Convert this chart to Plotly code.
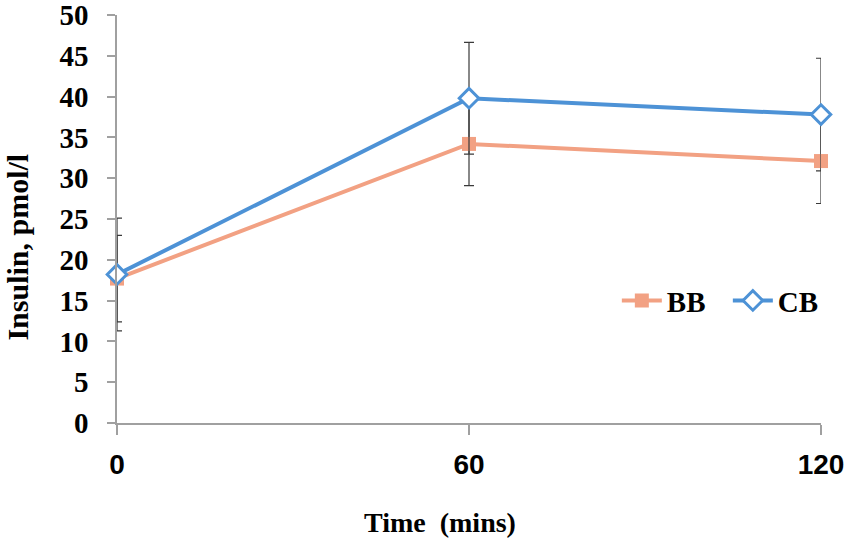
import plotly.graph_objects as go

# time points (mins)
time = [0, 60, 120]

# insulin, pmol/l
bb_mean = [17.7, 34.2, 32.1]
bb_err = [5.3, 5.1, 5.2]
cb_mean = [18.2, 39.8, 37.8]
cb_err = [6.9, 6.85, 6.9]

y_ticks = [0, 5, 10, 15, 20, 25, 30, 35, 40, 45, 50]
x_ticks = [0, 60, 120]

serif = "Liberation Serif, Times New Roman, serif"
sans = "Liberation Sans, Arial, sans-serif"

fig = go.Figure()

fig.add_trace(go.Scatter(
    x=time, y=bb_mean, name="BB", mode="lines+markers", cliponaxis=False,
    line=dict(color="#F2A183", width=4),
    marker=dict(symbol="square", size=14, color="#F2A183"),
    error_y=dict(type="data", array=bb_err, visible=True,
                 color="#3a3a3a", thickness=1.2, width=5),
))

fig.add_trace(go.Scatter(
    x=time, y=cb_mean, name="CB", mode="lines+markers", cliponaxis=False,
    line=dict(color="#4D92D6", width=4),
    marker=dict(symbol="diamond", size=15, color="white",
                line=dict(color="#4D92D6", width=3)),
    error_y=dict(type="data", array=cb_err, visible=True,
                 color="#3a3a3a", thickness=1.2, width=5),
))

fig.update_layout(
    width=851, height=547,
    margin=dict(l=117, r=30, t=15, b=124, autoexpand=False),
    plot_bgcolor="white", paper_bgcolor="white",
    showlegend=True,
    legend=dict(
        orientation="h", x=0.71, y=0.30, xanchor="left", yanchor="middle",
        font=dict(family=serif, size=29, color="black", weight="bold"),
        bgcolor="rgba(0,0,0,0)", itemwidth=40, tracegroupgap=0,
        entrywidth=56,
    ),
    font=dict(family=serif, color="black"),
)

fig.update_xaxes(
    range=[0, 120], tickvals=x_ticks, ticktext=[str(t) for t in x_ticks],
    showgrid=False, zeroline=False, automargin=False,
    showline=True, linecolor="#a0a0a0", linewidth=1.5,
    ticks="outside", ticklen=10, tickcolor="#a0a0a0", tickwidth=1.5,
    tickfont=dict(family=sans, size=28, color="black", weight="bold"),
    ticklabelstandoff=6, ticklabeloverflow="allow",
)

fig.update_yaxes(
    range=[0, 50], tickvals=y_ticks,
    showgrid=False, zeroline=False, automargin=False,
    showline=True, linecolor="#a0a0a0", linewidth=1.5,
    ticks="outside", ticklen=8, tickcolor="#a0a0a0", tickwidth=1.5,
    tickfont=dict(family=serif, size=29, color="black", weight="bold"),
    ticklabelstandoff=13, ticklabeloverflow="allow",
)

# axis titles
fig.add_annotation(
    text="<b>Insulin, pmol/l</b>", textangle=-90, showarrow=False,
    xref="paper", yref="paper", x=-0.1406, y=0.43,
    xanchor="center", yanchor="middle",
    font=dict(family=serif, size=30, color="black"),
)
fig.add_annotation(
    text="<b>Time  (mins)</b>", showarrow=False,
    xref="paper", yref="paper", x=0.459, y=-0.245,
    xanchor="center", yanchor="middle",
    font=dict(family=serif, size=28, color="black"),
)

# drop the default body margin so the figure sits at the page corner
fig.write_html("out.html", config={"displayModeBar": False},
               post_script="document.body.style.margin='0';")
